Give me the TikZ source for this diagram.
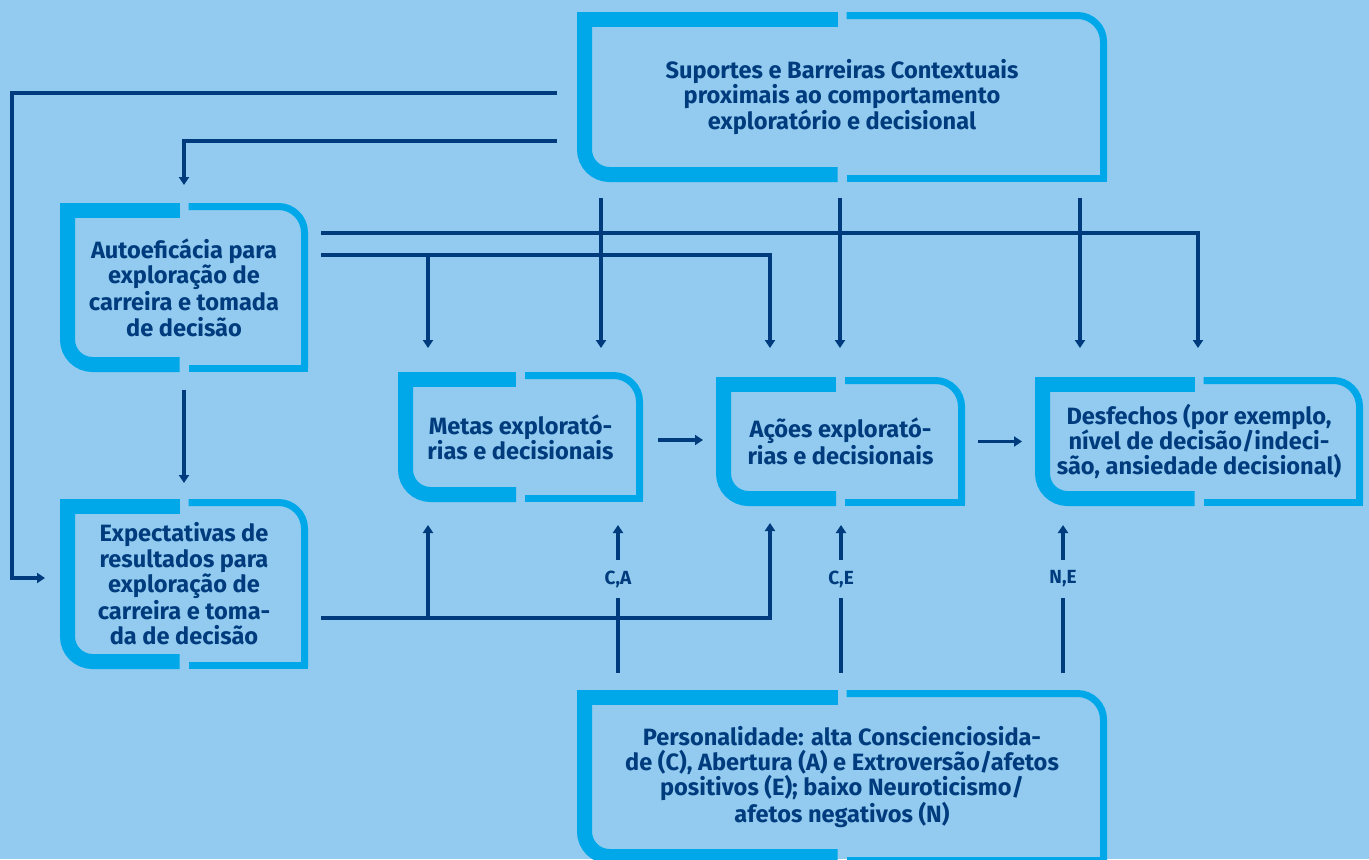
\documentclass[tikz,border=0pt]{standalone}
\usepackage{fontspec}
\setmainfont{Fira Sans}
\usetikzlibrary{arrows.meta}
\definecolor{bgblue}{HTML}{92CBEF}
\definecolor{rimblue}{HTML}{00A8E9}
\definecolor{navy}{HTML}{003C7D}
\newcommand\boxborder[1]{%
  \draw[rimblue, line width=7.5pt] ([shift={(-4.5,7.5)}]#1.north) -- ([shift={(7.5,7.5)}]#1.north west) -- ([shift={(7.5,30)}]#1.north west);
  \draw[rimblue, line width=7.5pt, rounded corners=12.5pt] ([shift={(7.5,7.5)}]#1.north west) -- ([shift={(7.5,-7.5)}]#1.south west) -- ([shift={(-4.5,-7.5)}]#1.south);
  \draw[rimblue, line width=3.5pt, rounded corners=13pt] ([shift={(4.5,3.5)}]#1.north) -- ([shift={(-3.5,3.5)}]#1.north east) -- ([shift={(-3.5,-3.5)}]#1.south east);
  \draw[rimblue, line width=3.5pt] ([shift={(-3.5,0)}]#1.east) -- ([shift={(-3.5,-3.5)}]#1.south east) -- ([shift={(4.5,-3.5)}]#1.south);
}
\begin{document}
\begin{tikzpicture}[x=0.5pt,y=-0.5pt]
        \tikzstyle{box}=[align=center, inner sep=0pt, outer sep=0pt, text=navy, font=\bfseries\fontsize{11.8}{12.6}\selectfont];
        \tikzstyle{conn}=[draw=navy, line width=1.7pt, -{Triangle[width=5pt,length=4pt]}];
        \tikzstyle{line}=[draw=navy, line width=1.7pt];
        \tikzstyle{lbl}=[inner sep=0pt, outer sep=0pt, minimum height=19pt, text=navy, font=\bfseries\fontsize{9.5}{10}\selectfont];
        \fill[bgblue] (0,0) rectangle (1369,859);
        \useasboundingbox (0,0) rectangle (1369,859);
        \node[box, minimum width=265pt, minimum height=85pt] (sup) at (842,97) {Suportes e Barreiras Contextuais\\proximais ao comportamento\\exploratório e decisional};
        \node[box, minimum width=124pt, minimum height=84.5pt] (auto) at (184,287.5) {Autoeficácia para\\exploração de\\carreira e tomada\\de decisão};
        \node[box, minimum width=124pt, minimum height=85pt] (expec) at (184,584) {Expectativas de\\resultados para\\exploração de\\carreira e toma-\\da de decisão};
        \node[box, minimum width=122.5pt, minimum height=65pt] (metas) at (520.5,437) {Metas explorató-\\rias e decisionais};
        \node[box, minimum width=124.5pt, minimum height=64.5pt] (acoes) at (840.5,441.5) {Ações explorató-\\rias e decisionais};
        \node[box, minimum width=164pt, minimum height=64.5pt] (desf) at (1199,441.5) {Desfechos (por exemplo,\\nível de decisão/indeci-\\são, ansiedade decisional)};
        \node[box, minimum width=265pt, minimum height=87pt] (pers) at (842,777) {Personalidade: alta Conscienciosida-\\de (C), Abertura (A) e Extroversão/afetos\\positivos (E); baixo Neuroticismo/\\afetos negativos (N)};
        \foreach \b in {sup,auto,expec,metas,acoes,desf,pers} {\boxborder{\b}}
        \node[lbl] (ca) at (618,579) {C,A};
        \node[lbl] (ce) at (841,579) {C,E};
        \node[lbl] (ne) at (1063,579) {N,E};
        \coordinate (lbend) at (12,93);
        \coordinate (ab) at (428,255);
        \coordinate (eb) at (428,618);
        \draw[conn, shorten <=10pt, shorten >=7.5pt] (sup.west |- lbend) -- (lbend) |- (expec.west |- 0,578);
        \draw[conn, shorten <=10pt, shorten >=9pt] (sup.west |- 0,141) -| (auto.north);
        \draw[conn, shorten <=6.5pt, shorten >=14.5pt] (auto.east |- 0,233) -| (desf.north -| 1198,0);
        \draw[conn, shorten <=6.5pt, shorten >=14.5pt] (auto.east |- ab) -| (acoes.north -| 770,0);
        \draw[conn, shorten >=12pt] (ab) -- (metas.north -| ab);
        \draw[conn, shorten <=8pt, shorten >=12pt] (sup.south -| 601,0) -- (metas.north -| 601,0);
        \draw[conn, shorten <=8pt, shorten >=14.5pt] (sup.south -| 840,0) -- (acoes.north -| 840,0);
        \draw[conn, shorten <=8pt, shorten >=14.5pt] (sup.south -| 1080,0) -- (desf.north -| 1080,0);
        \draw[conn, shorten <=9pt, shorten >=8pt] (auto.south) -- (expec.north);
        \draw[conn, shorten <=6.5pt, shorten >=8.5pt] (expec.east |- eb) -| (acoes.south -| 770,0);
        \draw[conn, shorten >=11.5pt] (eb) -- (metas.south -| eb);
        \draw[conn, shorten <=7.5pt, shorten >=6.5pt] (metas.east |- 0,440) -- (acoes.west |- 0,440);
        \draw[conn, shorten <=6.5pt, shorten >=6.5pt] (acoes.east) -- (desf.west);
        \draw[line, shorten >=8.5pt] (ca) -- (pers.north -| ca);
        \draw[conn, shorten >=11.5pt] (ca) -- (metas.south -| ca);
        \draw[line, shorten >=8.5pt] (ce) -- (pers.north -| ce);
        \draw[conn, shorten >=9.5pt] (ce) -- (acoes.south -| ce);
        \draw[line, shorten >=8.5pt] (ne) -- (pers.north -| ne);
        \draw[conn, shorten >=9.5pt] (ne) -- (desf.south -| ne);
\end{tikzpicture}
\end{document}
